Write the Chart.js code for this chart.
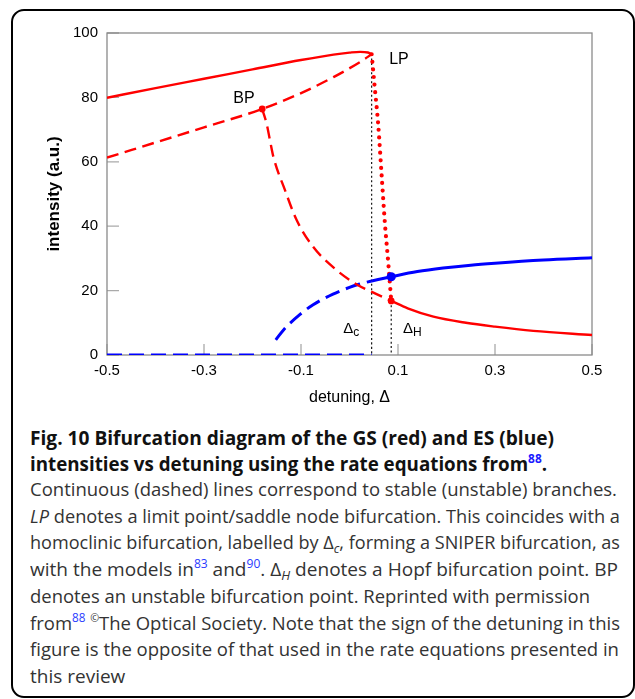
<!DOCTYPE html>
<html>
<head>
<meta charset="utf-8">
<script src="https://cdn.jsdelivr.net/npm/chart.js@4.4.1/dist/chart.umd.min.js"></script>
<style>
  html, body { margin: 0; padding: 0; background: #fff; }
  body { width: 635px; height: 699px; position: relative; overflow: hidden; }
  #frame { position: absolute; left: 11px; top: 9px; width: 624px; height: 689px; box-sizing: border-box;
           border: 2.8px solid #000; border-radius: 13px; }
  #plot { position: absolute; left: 0; top: 0; }
  .cap { position: absolute; left: 30px; white-space: nowrap; font-family: 'Open Sans', sans-serif;
         font-size: 19px; line-height: 27px; color: #333; transform-origin: 0 0; }
  .cap.t { font-weight: 700; color: #111; }
  .sup { font-size: 12px; color: #2a3bff; position: relative; top: -8px; }
  .cap.t .sup { color: #1a1aff; font-weight: 700; }
  .sup.k { color: #333; font-size: 11px; }
  .sub { font-size: 13px; font-style: italic; position: relative; top: 4px; }
</style>
</head>
<body>
<div id="frame"></div>
<canvas id="plot" width="635" height="410"></canvas>

<div class="cap t" data-r="554" style="top:425px">Fig. 10 Bifurcation diagram of the GS (red) and ES (blue)</div>
<div class="cap t" data-r="547" style="top:451px">intensities vs detuning using the rate equations from<span class="sup">88</span>.</div>
<div class="cap" data-r="617" style="top:476px">Continuous (dashed) lines correspond to stable (unstable) branches.</div>
<div class="cap" data-r="620" style="top:502.5px"><i>LP</i> denotes a limit point/saddle node bifurcation. This coincides with a</div>
<div class="cap" data-r="620" style="top:529px">homoclinic bifurcation, labelled by Δ<span class="sub">c</span>, forming a SNIPER bifurcation, as</div>
<div class="cap" data-r="618" style="top:556px">with the models in<span class="sup">83</span> and<span class="sup">90</span>. Δ<span class="sub">H</span> denotes a Hopf bifurcation point. BP</div>
<div class="cap" data-r="590" style="top:583px">denotes an unstable bifurcation point. Reprinted with permission</div>
<div class="cap" data-r="620" style="top:609.5px">from<span class="sup">88</span> <span class="sup k">©</span>The Optical Society. Note that the sign of the detuning in this</div>
<div class="cap" data-r="619" style="top:636px">figure is the opposite of that used in the rate equations presented in</div>
<div class="cap" style="top:663px">this review</div>

<script>
// Axis ticks
const xTicks = [-0.5, -0.3, -0.1, 0.1, 0.3, 0.5];
const yTicks = [0, 20, 40, 60, 80, 100];

// GS (red) branches: detuning vs intensity
const gsUpperStableX = [-0.5, -0.4, -0.3, -0.2, -0.1, -0.033, 0.0, 0.0217, 0.038, 0.0457];
const gsUpperStableY = [79.9, 82.9, 85.8, 88.7, 91.6, 93.3, 93.9, 94.15, 93.95, 93.4];

const gsMiddleUnstableX = [-0.5, -0.4, -0.3, -0.18, -0.102, -0.033, 0.0217, 0.0457];
const gsMiddleUnstableY = [61.3, 66.0, 70.7, 76.4, 81.2, 86.3, 91.0, 93.4];

const gsFromBpX = [-0.18, -0.171, -0.164, -0.157, -0.133, -0.109, -0.075, -0.027, 0.015, 0.046, 0.086];
const gsFromBpY = [76.4, 71.9, 66.7, 61.6, 51.2, 41.9, 33.6, 26.4, 21.9, 19.6, 16.8];

const gsOscX = [0.0457, 0.0526, 0.059, 0.066, 0.073, 0.080, 0.086];
const gsOscY = [93.4, 82.2, 71.9, 56.4, 40.9, 28.5, 16.8];

const gsLowerStableX = [0.086, 0.12, 0.173, 0.24, 0.3, 0.379, 0.5];
const gsLowerStableY = [16.8, 14.5, 11.9, 10.0, 8.8, 7.5, 6.2];

// ES (blue) branches
const esOffX = [-0.5, 0.0457];
const esOffY = [0, 0];

const esUnstableX = [-0.152, -0.136, -0.102, -0.075, -0.034, 0.0, 0.0175, 0.0457];
const esUnstableY = [4.7, 7.8, 12.6, 15.6, 18.9, 21.0, 21.9, 23.0];

const esStableX = [0.0457, 0.086, 0.14, 0.193, 0.25, 0.3, 0.4, 0.5];
const esStableY = [23.0, 24.3, 25.9, 27.0, 27.9, 28.5, 29.5, 30.2];

// Special points
const deltaC = 0.0457, deltaH = 0.086;
const bpPoint = { x: -0.18, y: 76.4 };
const hopfGs = { x: 0.086, y: 16.8 };
const hopfEs = { x: 0.086, y: 24.3 };
const lpIntensity = 93.4;

// Point annotations (data coordinates)
const pointLabels = [
  { text: 'LP', x: 0.102, y: 91.8 },
  { text: 'BP', x: -0.2175, y: 79.7 }
];
const deltaLabels = [
  { sub: 'c', x: -0.0025, y: 8.2 },
  { sub: 'H', x: 0.1206, y: 8.2 }
];

const pts = (xs, ys) => xs.map((x, i) => ({ x, y: ys[i] }));
const RED = '#ff0000', BLUE = '#0000ff';

const line = (data, color, extra) => Object.assign({
  data, showLine: true, borderColor: color, backgroundColor: color,
  borderWidth: 2.4, pointRadius: 0, pointHoverRadius: 0, cubicInterpolationMode: 'monotone', fill: false
}, extra || {});

const datasets = [
  // marker dots
  { data: [hopfEs], pointRadius: 4.6, backgroundColor: BLUE, borderWidth: 0, showLine: false },
  { data: [bpPoint, hopfGs], pointRadius: 3.4, backgroundColor: RED, borderWidth: 0, showLine: false },
  // red branches
  line(pts(gsOscX, gsOscY), RED, { borderDash: [0, 7.6], borderCapStyle: 'round', borderWidth: 4.2 }),
  line(pts(gsUpperStableX, gsUpperStableY), RED),
  line(pts(gsMiddleUnstableX, gsMiddleUnstableY), RED, { borderDash: [12, 6.5] }),
  line(pts(gsFromBpX, gsFromBpY), RED, { borderDash: [12, 6.5] }),
  line(pts(gsLowerStableX, gsLowerStableY), RED),
  // blue branches
  line(pts(esStableX, esStableY), BLUE, { borderWidth: 3 }),
  line(pts(esUnstableX, esUnstableY), BLUE, { borderWidth: 3, borderDash: [15, 7] }),
  line(pts(esOffX, esOffY), BLUE, { borderWidth: 3, borderDash: [15, 7] }),
  // homoclinic and Hopf markers
  line([{ x: deltaC, y: lpIntensity }, { x: deltaC, y: 0 }], '#000', { borderWidth: 1.1, borderDash: [2, 2.5] }),
  line([{ x: deltaH, y: hopfGs.y }, { x: deltaH, y: 0 }], '#000', { borderWidth: 1.1, borderDash: [2, 2.5] })
];

// Axis box with inward tick marks
const axesFrame = {
  id: 'axesFrame',
  beforeDatasetsDraw(chart) {
    const { ctx, chartArea: a, scales: { x, y } } = chart;
    ctx.save();
    ctx.strokeStyle = '#aaaaaa';
    ctx.lineWidth = 1.3;
    ctx.beginPath();
    y.ticks.forEach(t => { const py = y.getPixelForValue(t.value); ctx.moveTo(a.left, py); ctx.lineTo(a.left + 12, py); });
    x.ticks.forEach(t => { const px = x.getPixelForValue(t.value); ctx.moveTo(px, a.bottom); ctx.lineTo(px, a.bottom - 11); });
    ctx.stroke();
    ctx.strokeStyle = '#8a8a8a';
    ctx.strokeRect(a.left, a.top, a.right - a.left, a.bottom - a.top);
    ctx.restore();
  }
};

// Text annotations for the bifurcation points
const pointText = {
  id: 'pointText',
  afterDatasetsDraw(chart) {
    const { ctx, scales: { x, y } } = chart;
    ctx.save();
    ctx.fillStyle = '#000';
    ctx.textAlign = 'center';
    ctx.textBaseline = 'middle';
    ctx.font = '16px "Liberation Sans", Arial, sans-serif';
    pointLabels.forEach(l => ctx.fillText(l.text, x.getPixelForValue(l.x), y.getPixelForValue(l.y)));
    deltaLabels.forEach(l => {
      const px = x.getPixelForValue(l.x), py = y.getPixelForValue(l.y);
      ctx.font = '15px "Liberation Sans", Arial, sans-serif';
      ctx.textAlign = 'center';
      ctx.fillText('Δ', px, py);
      ctx.font = '12px "Liberation Sans", Arial, sans-serif';
      ctx.textAlign = 'left';
      ctx.fillText(l.sub, px + 5, py + 4);
    });
    ctx.restore();
  }
};

new Chart(document.getElementById('plot'), {
  type: 'scatter',
  data: { datasets },
  plugins: [axesFrame, pointText],
  options: {
    responsive: false,
    devicePixelRatio: 1,
    animation: false,
    events: [],
    layout: { padding: { top: 33, right: 43, left: 0, bottom: 0 } },
    plugins: { legend: { display: false }, tooltip: { enabled: false } },
    scales: {
      x: {
        type: 'linear', min: -0.5, max: 0.5,
        afterBuildTicks: s => { s.ticks = xTicks.map(v => ({ value: v })); },
        afterFit: s => { s.height = 55; },
        grid: { display: false, drawTicks: false },
        border: { display: false },
        ticks: { padding: 7, color: '#000', font: { family: 'Liberation Sans', size: 15 },
                 callback: v => v.toFixed(1) },
        title: { display: true, text: 'detuning, Δ', color: '#000', padding: { top: 0, bottom: 3 },
                 font: { family: 'Liberation Sans', size: 16 } }
      },
      y: {
        type: 'linear', min: 0, max: 100,
        afterBuildTicks: s => { s.ticks = yTicks.map(v => ({ value: v })); },
        afterFit: s => { s.width = 107; },
        grid: { display: false, drawTicks: false },
        border: { display: false },
        ticks: { padding: 9, color: '#000', font: { family: 'Liberation Sans', size: 15 } },
        title: { display: true, text: 'intensity (a.u.)', color: '#000', padding: { top: 44, bottom: 0 },
                 font: { family: 'Liberation Sans', size: 17, weight: 'bold' } }
      }
    }
  }
});

// Fit each caption line to its column width
document.querySelectorAll('.cap[data-r]').forEach(el => {
  const w = el.getBoundingClientRect().width;
  const target = parseFloat(el.dataset.r) - 30;
  el.style.transform = 'scaleX(' + (target / w).toFixed(4) + ')';
});
</script>
</body>
</html>
